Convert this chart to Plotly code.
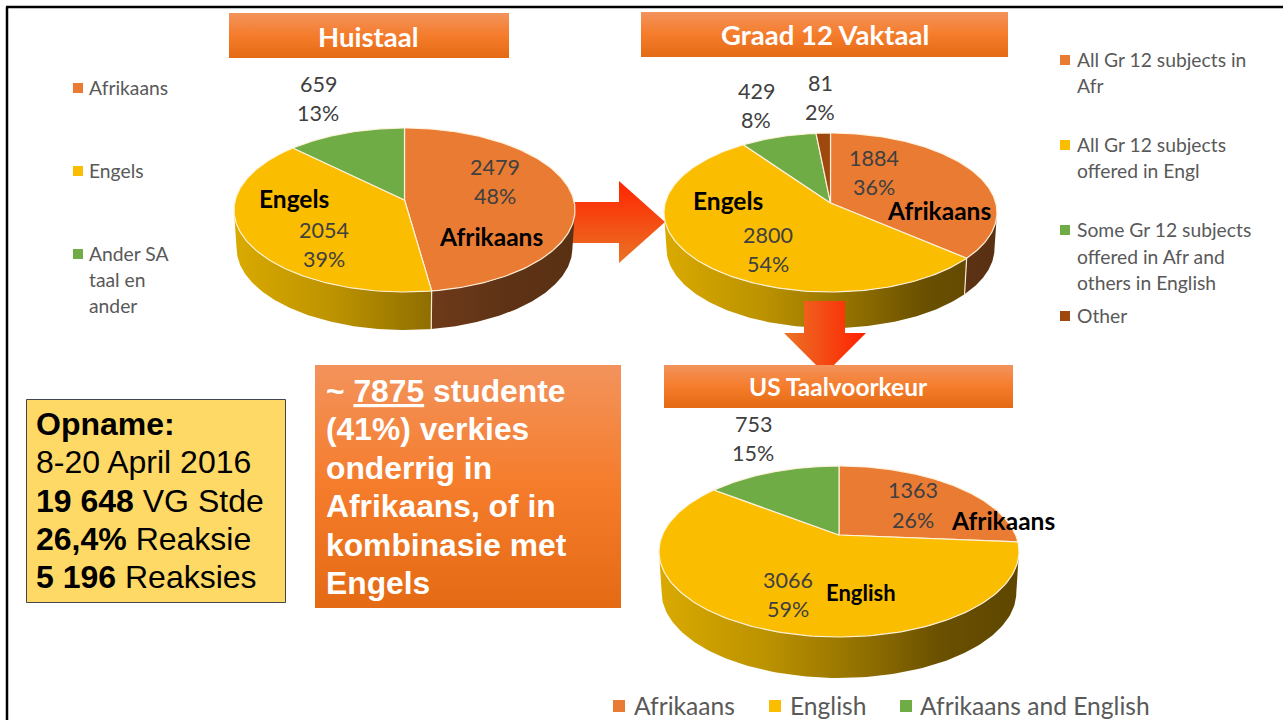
import numpy as np
import plotly.graph_objects as go

# ---- data ----
huistaal_names = ["Afrikaans", "Engels", "Ander SA taal en ander"]
huistaal_values = [2479, 2054, 659]
huistaal_pct = [48, 39, 13]

vaktaal_names = ["All Gr 12 subjects in Afr", "All Gr 12 subjects offered in Engl",
                 "Some Gr 12 subjects offered in Afr and others in English", "Other"]
vaktaal_values = [1884, 2800, 429, 81]
vaktaal_pct = [36, 54, 8, 2]

voorkeur_names = ["Afrikaans", "English", "Afrikaans and English"]
voorkeur_values = [1363, 3066, 753]
voorkeur_pct = [26, 59, 15]

# ---- styles and layout ----
W, H = 1283, 720
TOP = ["#E97B33", "#FBBD00", "#6FAC46", "#9E480E"]
EDGE = "rgba(255,243,222,0.95)"
GOLD = [[0, "#DAAA00"], [0.3, "#BB9200"], [0.58, "#8F6E00"], [0.78, "#6A5000"], [1, "#5E4600"]]
RUST = [[0, "#7A4220"], [0.58, "#6E3A1A"], [0.8, "#5E3315"], [1, "#5A3013"]]
SIDE = [RUST, GOLD, GOLD, RUST]
CAL = "Lato"
ARI = "Liberation Sans"
DARK = "#404040"
LEG = "#595959"
BAR_V = [[0, "#F3935C"], [0.5, "#F57C2B"], [1, "#E46A14"]]

fig = go.Figure()
ann = []


def poly(xs, ys, color=None, grad=None, line=None, lw=1):
    kw = dict(fillgradient=grad) if grad else dict(fillcolor=color)
    fig.add_trace(go.Scatter(x=list(xs), y=list(ys), mode="lines", fill="toself",
                             line=dict(color=line or "rgba(0,0,0,0)", width=lw if line else 0),
                             hoverinfo="skip", **kw))


def box(x0, y0, x1, y1, grad=None, color=None, line=None):
    g = dict(type="vertical", colorscale=grad, start=y0, stop=y1) if grad else None
    poly([x0, x1, x1, x0, x0], [y0, y0, y1, y1, y0], color, g, line, 1)


def txt(x, y, s, size, color=DARK, font=CAL, anchor="center", bold=False):
    if bold:
        s = f"<b>{s}</b>"
    if font == CAL:
        y = y - 1
    ann.append(dict(x=x, y=y, text=s, showarrow=False, xanchor=anchor, yanchor="middle",
                    font=dict(size=size, color=color, family=font), borderpad=0, borderwidth=0))


def pie3d(values, cx, cy, rx, ry, off, depth):
    k = off / ry
    a = rx * np.sqrt(1 - k * k)

    def proj(th, low=False):
        u, v = np.sin(th), -np.cos(th)
        w = 1 + k * v
        X, Y = a * u / w, (ry * v + ry * k) / w
        if low:
            return cx + X * 0.985, cy + Y + depth
        return cx + X, cy + Y

    cum = np.cumsum([0] + list(values)) / sum(values) * 2 * np.pi
    vis0 = np.arccos(k)
    vis1 = 2 * np.pi - vis0
    # side walls
    for i in range(len(values)):
        t0, t1 = max(cum[i], vis0), min(cum[i + 1], vis1)
        if t1 <= t0:
            continue
        th = np.linspace(t0, t1, 120)
        xu, yu = proj(th)
        xl, yl = proj(th[::-1], True)
        g = dict(type="horizontal", colorscale=SIDE[i], start=cx - rx, stop=cx + rx)
        poly(np.r_[xu, xl, xu[0]], np.r_[yu, yl, yu[0]], None, g)
    # seams on the wall
    for t in cum[1:-1]:
        if vis0 < t < vis1:
            xu, yu = proj(t)
            xl, yl = proj(t, True)
            fig.add_trace(go.Scatter(x=[xu, xl], y=[yu, yl], mode="lines", hoverinfo="skip",
                                     line=dict(color=EDGE, width=1.2)))
    # top slices
    for i in range(len(values)):
        th = np.linspace(cum[i], cum[i + 1], 160)
        xt, yt = proj(th)
        ax, ay = cx, cy + ry * k
        poly(np.r_[ax, xt, ax], np.r_[ay, yt, ay], TOP[i], None, EDGE, 1.2)


def squares(xs, ys, colors, size):
    fig.add_trace(go.Scatter(x=xs, y=ys, mode="markers", hoverinfo="skip",
                             marker=dict(symbol="square", size=size, color=colors, line=dict(width=0))))


# right arrow (behind the pies)
poly([570, 619, 619, 665, 619, 619, 570, 570], [202, 202, 181, 222, 263, 243, 243, 202], None,
     dict(type="vertical", colorscale=[[0, "#FF2400"], [1, "#EA7426"]], start=181, stop=263))

pie3d(huistaal_values, 404.5, 210, 170.5, 82, -10, 38)
pie3d(vaktaal_values, 830.5, 212.5, 166.5, 79.5, -9.5, 36)
pie3d(voorkeur_values, 839, 551.5, 180, 85.5, -16.5, 41)

# down arrow
poly([804, 845, 845, 866, 825, 784, 804, 804], [301, 301, 333, 333, 374, 333, 333, 301], None,
     dict(type="horizontal", colorscale=[[0, "#EA7426"], [1, "#FF2000"]], start=784, stop=866))

# header and note boxes
box(229, 13, 509, 58, BAR_V)
box(641, 12, 1008, 57, BAR_V)
box(664, 365, 1013, 408, BAR_V)
box(315, 365, 621, 608, BAR_V)
box(26.5, 399.5, 285.5, 602.5, color="#FFD966", line="#3F4650")

txt(368.5, 37, "Huistaal", 27.5, "white", bold=True)
txt(824.5, 35, "Graad 12 Vaktaal", 27.5, "white", bold=True)
txt(838.5, 387, "US Taalvoorkeur", 24.5, "white", bold=True)

# yellow note
yx = 36
txt(yx, 424, "<b>Opname:</b>", 32, "black", ARI, "left")
txt(yx, 462, "8-20 April 2016", 32, "black", ARI, "left")
txt(yx, 501, "<b>19 648</b> VG Stde", 32, "black", ARI, "left")
txt(yx, 539, "<b>26,4%</b> Reaksie", 32, "black", ARI, "left")
txt(yx, 577, "<b>5 196</b> Reaksies", 32, "black", ARI, "left")

# orange note
note_lines = ["~ <u>7875</u> studente", "(41%) verkies", "onderrig in", "Afrikaans, of in",
              "kombinasie met", "Engels"]
for yy, s in zip([391, 429, 468, 506, 545, 583], note_lines):
    txt(325.5, yy, s, 31.8, "white", ARI, "left", True)


def value_label(x, y0, y1, v, p, size=21.5):
    txt(x, y0, str(v), size)
    txt(x, y1, f"{p}%", size)


# pie 1 labels
value_label(495, 168, 197, huistaal_values[0], huistaal_pct[0])
value_label(324, 231, 260, huistaal_values[1], huistaal_pct[1])
value_label(318, 85, 114, huistaal_values[2], huistaal_pct[2])
txt(491, 237, "Afrikaans", 24.5, "black", bold=True)
txt(294, 199, "Engels", 24.5, "black", bold=True)

# pie 2 labels
value_label(874, 159, 188, vaktaal_values[0], vaktaal_pct[0])
value_label(768, 236, 265, vaktaal_values[1], vaktaal_pct[1])
value_label(756, 92, 121, vaktaal_values[2], vaktaal_pct[2])
value_label(820, 84, 113, vaktaal_values[3], vaktaal_pct[3])
txt(939, 211, "Afrikaans", 24.5, "black", bold=True)
txt(728, 201, "Engels", 24.5, "black", bold=True)

# pie 3 labels
value_label(913, 491, 521, voorkeur_values[0], voorkeur_pct[0])
value_label(788, 581, 610, voorkeur_values[1], voorkeur_pct[1])
value_label(753, 425, 454, voorkeur_values[2], voorkeur_pct[2])
txt(1003, 521, "Afrikaans", 24.5, "black", bold=True)
txt(861, 593, "English", 22, "black", bold=True)

# legend 1
squares([78, 78, 78], [88, 171, 254], TOP[:3], 10)
txt(89, 88, "Afrikaans", 19.3, LEG, anchor="left")
txt(89, 171, "Engels", 19.3, LEG, anchor="left")
for yy, s in zip([254, 280, 306], ["Ander SA", "taal en", "ander"]):
    txt(89, yy, s, 19.3, LEG, anchor="left")

# legend 2
squares([1065, 1065, 1065, 1065], [60, 145, 230, 316], TOP, 10)
for yy, s in zip([60, 86, 145, 171, 230, 257, 283, 316],
                 ["All Gr 12 subjects in", "Afr", "All Gr 12 subjects", "offered in Engl",
                  "Some Gr 12 subjects", "offered in Afr and", "others in English", "Other"]):
    txt(1076.5, yy, s, 19.3, LEG, anchor="left")

# legend 3
squares([619, 775, 906], [706, 706, 706], TOP[:3], 12)
for xx, s in zip([634, 790, 920], voorkeur_names):
    txt(xx, 706, s, 24.6, LEG, anchor="left")

# slide frame
frame = [dict(type="line", xref="x", yref="y", x0=7, x1=7, y0=7, y1=720, line=dict(color="black", width=2.5)),
         dict(type="line", xref="x", yref="y", x0=6, x1=1283, y0=7, y1=7, line=dict(color="black", width=2.5))]

fig.update_layout(width=W, height=H, margin=dict(l=0, r=0, t=0, b=0), showlegend=False,
                  paper_bgcolor="white", plot_bgcolor="white", hovermode=False,
                  xaxis=dict(range=[0, W], visible=False, fixedrange=True),
                  yaxis=dict(range=[H, 0], visible=False, fixedrange=True),
                  annotations=ann, shapes=frame)

fig.write_html("out.html", config=dict(displayModeBar=False),
               post_script="document.body.style.margin='0';document.body.style.overflow='hidden';")
